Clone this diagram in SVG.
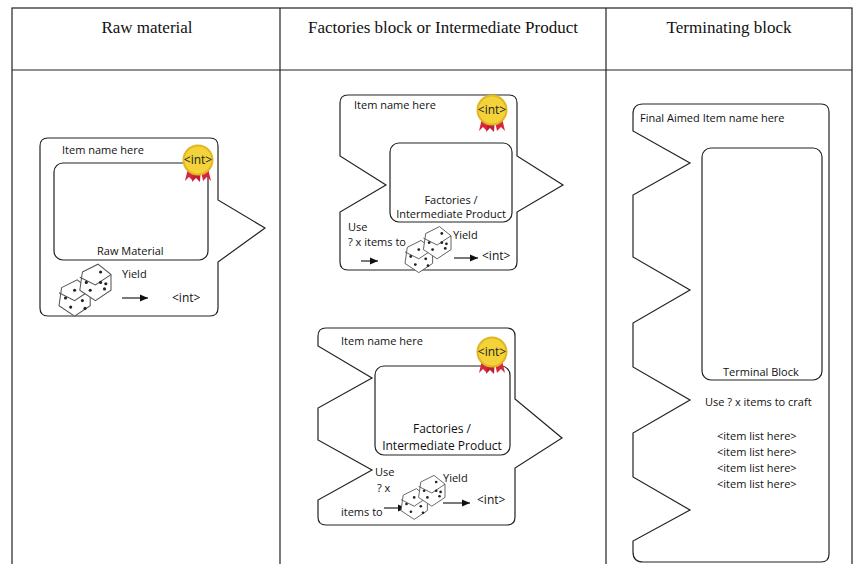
<svg xmlns="http://www.w3.org/2000/svg" width="868" height="564" viewBox="0 0 868 564">
<defs>
<style>
.ln{fill:none;stroke:#222;stroke-width:1.2}
.bx{fill:#fff;stroke:#222;stroke-width:1.2}
.hd{font-family:"Liberation Serif",serif;font-size:17px;fill:#111}
.t{font-family:"Open Sans","Liberation Sans",sans-serif;font-size:11px;fill:#111}
.tb{font-family:"Open Sans","Liberation Sans",sans-serif;font-size:12px;fill:#111}
.m{font-family:"Open Sans","Liberation Sans",sans-serif;font-size:12px;fill:#222}
</style>
<g id="medal">
<path d="M-9,4 L-13,21 L-9,17 L-5,21 L-2,6 Z" fill="#d7263d"/>
<path d="M9,4 L13,21 L9,17 L5,21 L2,6 Z" fill="#d7263d"/>
<path d="M-3,6 L-6,22 L-2,18 L2,22 L3,6 Z" fill="#c01f32"/>
<circle r="14.5" fill="#f3d23a" stroke="#e2b622" stroke-width="2"/>
<text y="4" text-anchor="middle" class="m">&lt;int&gt;</text>
</g>
<g id="dice">
<polygon points="-18,2 -6,-4 4,4 4,16 -8,24 -20,16" fill="#fff" stroke="#555" stroke-width="0.8"/>
<polyline points="-20,6 -8,12 4,4 M-8,12 -8,24" fill="none" stroke="#555" stroke-width="0.8"/>
<polygon points="-2,-10 10,-16 20,-8 20,4 8,12 -4,4" fill="#fff" stroke="#555" stroke-width="0.8"/>
<polyline points="-4,-6 8,0 20,-8 M8,0 8,12" fill="none" stroke="#555" stroke-width="0.8"/>
<g fill="#222"><circle cx="-15" cy="10" r="1.2"/><circle cx="-11" cy="17" r="1.2"/><circle cx="-2" cy="12" r="1.2"/><circle cx="0" cy="18" r="1.2"/><circle cx="-8" cy="4" r="1.2"/><circle cx="1" cy="-2" r="1.2"/><circle cx="4" cy="4" r="1.2"/><circle cx="12" cy="-2" r="1.2"/><circle cx="15" cy="3" r="1.2"/><circle cx="12" cy="-10" r="1.2"/><circle cx="16" cy="-1" r="1.2"/></g>
</g>
<marker id="ar" markerWidth="8" markerHeight="8" refX="7" refY="4" orient="auto"><path d="M0,1 L7,4 L0,7 Z" fill="#111"/></marker>
</defs>
<rect width="868" height="564" fill="#fff"/>
<g id="table" class="ln">
<rect x="12" y="8" width="840" height="570"/>
<line x1="12" y1="70" x2="852" y2="70"/>
<line x1="280" y1="8" x2="280" y2="564"/>
<line x1="606" y1="8" x2="606" y2="564"/>
</g>
<text class="hd" x="147" y="33" text-anchor="middle">Raw material</text>
<text class="hd" x="443" y="33" text-anchor="middle">Factories block or Intermediate Product</text>
<text class="hd" x="729" y="33" text-anchor="middle">Terminating block</text>

<g id="raw">
<path class="bx" d="M48,138 H210 Q218,138 218,146 V200 L265,228 L218,262 V308 Q218,316 210,316 H48 Q40,316 40,308 V146 Q40,138 48,138 Z"/>
<rect class="bx" x="54" y="163" width="154" height="97" rx="9"/>
<text class="t" x="62" y="154">Item name here</text>
<use href="#medal" x="198" y="160"/>
<text class="t" x="97" y="255">Raw Material</text>
<use href="#dice" transform="translate(85,285) scale(1.3)"/>
<text class="t" x="122" y="278">Yield</text>
<line class="ln" x1="122" y1="298" x2="148" y2="298" marker-end="url(#ar)"/>
<text class="tb" x="172" y="302">&lt;int&gt;</text>
</g>

<g id="factory1">
<path class="bx" d="M348,95 H509 Q517,95 517,103 V156 L563,185 L517,212 V262 Q517,270 509,270 H348 Q340,270 340,262 V212 L386,185 L340,156 V103 Q340,95 348,95 Z"/>
<rect class="bx" x="390" y="143" width="122" height="79" rx="9"/>
<text class="t" x="354" y="109">Item name here</text>
<use href="#medal" x="492" y="110"/>
<text class="t" x="451" y="204" text-anchor="middle">Factories /</text>
<text class="t" x="451" y="218" text-anchor="middle">Intermediate Product</text>
<text class="t" x="348" y="231">Use</text>
<text class="t" x="348" y="246">? x items to</text>
<line class="ln" x1="361" y1="261" x2="378" y2="261" marker-end="url(#ar)"/>
<use href="#dice" transform="translate(428,245) scale(1.15)"/>
<text class="t" x="453" y="239">Yield</text>
<line class="ln" x1="454" y1="258" x2="478" y2="258" marker-end="url(#ar)"/>
<text class="tb" x="482" y="260">&lt;int&gt;</text>
</g>

<g id="factory2">
<path class="bx" d="M326,328 H507 Q515,328 515,336 V399 L562,438 L515,468 V517 Q515,525 507,525 H326 Q318,525 318,517 V500 L372,470 L318,440 V408 L372,378 L318,346 V336 Q318,328 326,328 Z"/>
<rect class="bx" x="375" y="366" width="135" height="89" rx="9"/>
<text class="t" x="341" y="345">Item name here</text>
<use href="#medal" x="492" y="352"/>
<text class="tb" x="442" y="433" text-anchor="middle">Factories /</text>
<text class="tb" x="442" y="450" text-anchor="middle">Intermediate Product</text>
<text class="t" x="375" y="476">Use</text>
<text class="t" x="377" y="492">? x</text>
<text class="t" x="341" y="516">items to</text>
<line class="ln" x1="384" y1="508" x2="406" y2="508" marker-end="url(#ar)"/>
<use href="#dice" transform="translate(423,493) scale(1.1)"/>
<text class="t" x="443" y="482">Yield</text>
<line class="ln" x1="443" y1="503" x2="470" y2="503" marker-end="url(#ar)"/>
<text class="tb" x="477" y="504">&lt;int&gt;</text>
</g>

<g id="terminal">
<path class="bx" d="M643,104 H821 Q829,104 829,112 V554 Q829,562 821,562 H643 Q633,562 633,552 V541 L690,510 L633,477 V433 L690,400 L633,367 V323 L690,290 L633,257 V195 L690,163 L633,131 V114 Q633,104 643,104 Z"/>
<rect class="bx" x="702" y="148" width="120" height="232" rx="9"/>
<text class="t" x="640" y="122">Final Aimed Item name here</text>
<text class="t" x="723" y="376">Terminal Block</text>
<text class="t" x="705" y="406">Use  ? x items to craft</text>
<text class="t" x="717" y="440">&lt;item list here&gt;</text>
<text class="t" x="717" y="456">&lt;item list here&gt;</text>
<text class="t" x="717" y="472">&lt;item list here&gt;</text>
<text class="t" x="717" y="488">&lt;item list here&gt;</text>
</g>
</svg>
